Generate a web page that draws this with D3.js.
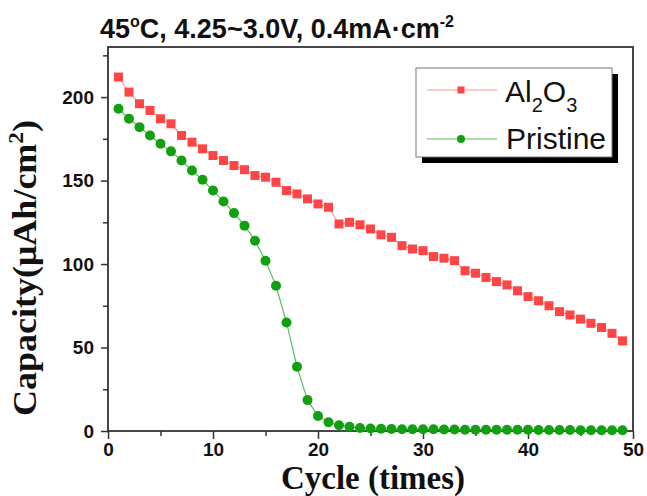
<!DOCTYPE html>
<html>
<head>
<meta charset="utf-8">
<script src="https://cdn.jsdelivr.net/npm/d3@7"></script>
<style>
	body { margin: 0; background: #fff; }
	svg { display: block; }
	.tick text { font-family: "Liberation Sans", Arial, sans-serif; font-weight: bold; font-size: 19px; fill: #111; }
	.tick line { stroke: #333; stroke-width: 1.5; }
</style>
</head>
<body>
<svg id="chart" width="647" height="496"></svg>
<script>
// cycle number
const cycles = [1, 2, 3, 4, 5, 6, 7, 8, 9, 10, 11, 12, 13, 14, 15, 16, 17, 18, 19, 20,
	21, 22, 23, 24, 25, 26, 27, 28, 29, 30, 31, 32, 33, 34, 35, 36, 37, 38, 39, 40,
	41, 42, 43, 44, 45, 46, 47, 48, 49]

// capacity, uAh/cm2
const al2o3 = [212, 203, 196, 192, 187, 184, 177, 173, 169, 165,
	162, 159, 156.5, 153, 152, 149, 144, 142, 139, 136,
	134, 124, 125, 123.5, 121, 117.5, 116, 111, 109, 108,
	104.5, 103.5, 102, 96, 94.5, 92, 89.5, 87.5, 84, 80.5,
	78, 75, 71.5, 69.5, 67, 64.5, 62, 58.5, 54]

const pristine = [193, 187, 182, 177, 172, 167.5, 162, 156, 150.5, 144,
	137.5, 130.5, 123, 114, 102, 87, 65, 38.5, 18.5, 9,
	5.2, 3.4, 2.5, 1.8, 1.5, 1.3, 1.2, 1.1, 1, 1,
	1, 0.9, 0.9, 0.8, 0.8, 0.8, 0.7, 0.7, 0.7, 0.7,
	0.6, 0.6, 0.6, 0.6, 0.5, 0.5, 0.5, 0.5, 0.5]

const xMajor = [0, 10, 20, 30, 40, 50]
const xMinor = [5, 15, 25, 35, 45]
const yMajor = [0, 50, 100, 150, 200]
const yMinor = [25, 75, 125, 175, 225]

const svg = d3.select('#chart')

let x = d3.scaleLinear().domain([0, 50]).range([108, 633])
let y = d3.scaleLinear().domain([0, 230]).range([431, 47])

// ticks
svg.append('g')
	.attr('transform', `translate(0,${y(0)})`)
	.call(d3.axisBottom(x).tickValues(xMajor).tickSize(8).tickPadding(3))
	.call(g => g.select('.domain').remove())
	.call(g => g.selectAll('text').attr('dy', '0.75em'))
svg.append('g')
	.attr('transform', `translate(0,${y(0)})`)
	.call(d3.axisBottom(x).tickValues(xMinor).tickSize(5).tickFormat(''))
	.call(g => g.select('.domain').remove())
svg.append('g')
	.attr('transform', `translate(${x(0)},0)`)
	.call(d3.axisLeft(y).tickValues(yMajor).tickSize(7).tickPadding(7))
	.call(g => g.select('.domain').remove())
svg.append('g')
	.attr('transform', `translate(${x(0)},0)`)
	.call(d3.axisLeft(y).tickValues(yMinor).tickSize(5).tickFormat(''))
	.call(g => g.select('.domain').remove())

// frame
svg.append('rect')
	.attr('x', x(0)).attr('y', y(230))
	.attr('width', x(50) - x(0)).attr('height', y(0) - y(230))
	.style('fill', 'none')
	.style('stroke', '#333')
	.style('stroke-width', 1.8)

let line = d3.line().x((d, i) => x(cycles[i])).y(d => y(d))

svg.append('path')
	.datum(al2o3)
	.attr('d', line)
	.style('fill', 'none')
	.style('stroke', '#f89a9a')
	.style('stroke-width', 1.2)

svg.append('path')
	.datum(pristine)
	.attr('d', line)
	.style('fill', 'none')
	.style('stroke', '#5cbf5c')
	.style('stroke-width', 1.2)

svg.selectAll('.sq')
	.data(al2o3)
	.enter().append('rect')
	.attr('class', 'sq')
	.attr('x', (d, i) => x(cycles[i]) - 4.5)
	.attr('y', d => y(d) - 4.5)
	.attr('width', 9).attr('height', 9)
	.style('fill', '#ff4545')

svg.selectAll('.dot')
	.data(pristine)
	.enter().append('circle')
	.attr('class', 'dot')
	.attr('cx', (d, i) => x(cycles[i]))
	.attr('cy', d => y(d))
	.attr('r', 5)
	.style('fill', '#10a010')

// legend
let lg = svg.append('g')
lg.append('rect')
	.attr('x', 422).attr('y', 74).attr('width', 196).attr('height', 89)
	.style('fill', '#000')
lg.append('rect')
	.attr('x', 416).attr('y', 68).attr('width', 196).attr('height', 89)
	.style('fill', '#fff')
	.style('stroke', '#777')
	.style('stroke-width', 1)

lg.append('line')
	.attr('x1', 427).attr('x2', 497).attr('y1', 90).attr('y2', 90)
	.style('stroke', '#f89a9a').style('stroke-width', 1.2)
lg.append('rect')
	.attr('x', 457.5).attr('y', 86.5).attr('width', 7).attr('height', 7)
	.style('fill', '#ff4545')
lg.append('line')
	.attr('x1', 427).attr('x2', 497).attr('y1', 139).attr('y2', 139)
	.style('stroke', '#5cbf5c').style('stroke-width', 1.2)
lg.append('circle')
	.attr('cx', 461).attr('cy', 139).attr('r', 4)
	.style('fill', '#10a010')

let t1 = lg.append('text')
	.attr('x', 505).attr('y', 102)
	.style('font-family', '"Liberation Sans", Arial, sans-serif')
	.style('font-size', '30px')
	.style('fill', '#111')
t1.append('tspan').text('Al')
t1.append('tspan').attr('dy', 10).style('font-size', '20px').text('2')
t1.append('tspan').attr('dy', -10).text('O')
t1.append('tspan').attr('dy', 10).style('font-size', '20px').text('3')

lg.append('text')
	.attr('x', 506).attr('y', 149)
	.style('font-family', '"Liberation Sans", Arial, sans-serif')
	.style('font-size', '30px')
	.style('fill', '#111')
	.text('Pristine')

// title
let title = svg.append('text')
	.attr('x', 100).attr('y', 38)
	.style('font-family', '"Liberation Sans Narrow", "Liberation Sans", Arial, sans-serif')
	.style('font-weight', 'bold')
	.style('font-size', '27px')
	.style('fill', '#111')
title.append('tspan').text('45')
title.append('tspan').attr('dy', -11).style('font-size', '16px').text('o')
title.append('tspan').attr('dy', 11).text('C, 4.25~3.0V, 0.4mA·cm')
title.append('tspan').attr('dy', -11).style('font-size', '16px').text('-2')

// axis titles
svg.append('text')
	.attr('x', 373).attr('y', 489)
	.attr('text-anchor', 'middle')
	.style('font-family', '"Liberation Serif", "Times New Roman", serif')
	.style('font-weight', 'bold')
	.style('font-size', '33px')
	.style('fill', '#111')
	.text('Cycle (times)')

let yl = svg.append('text')
	.attr('transform', 'translate(36,268) rotate(-90)')
	.attr('text-anchor', 'middle')
	.attr('textLength', 296)
	.attr('lengthAdjust', 'spacingAndGlyphs')
	.style('font-family', '"Liberation Serif", "Times New Roman", serif')
	.style('font-weight', 'bold')
	.style('font-size', '34px')
	.style('fill', '#111')
yl.append('tspan').text('Capacity(μAh/cm')
yl.append('tspan').attr('dy', -13).style('font-size', '22px').text('2')
yl.append('tspan').attr('dy', 13).text(')')
</script>
</body>
</html>
